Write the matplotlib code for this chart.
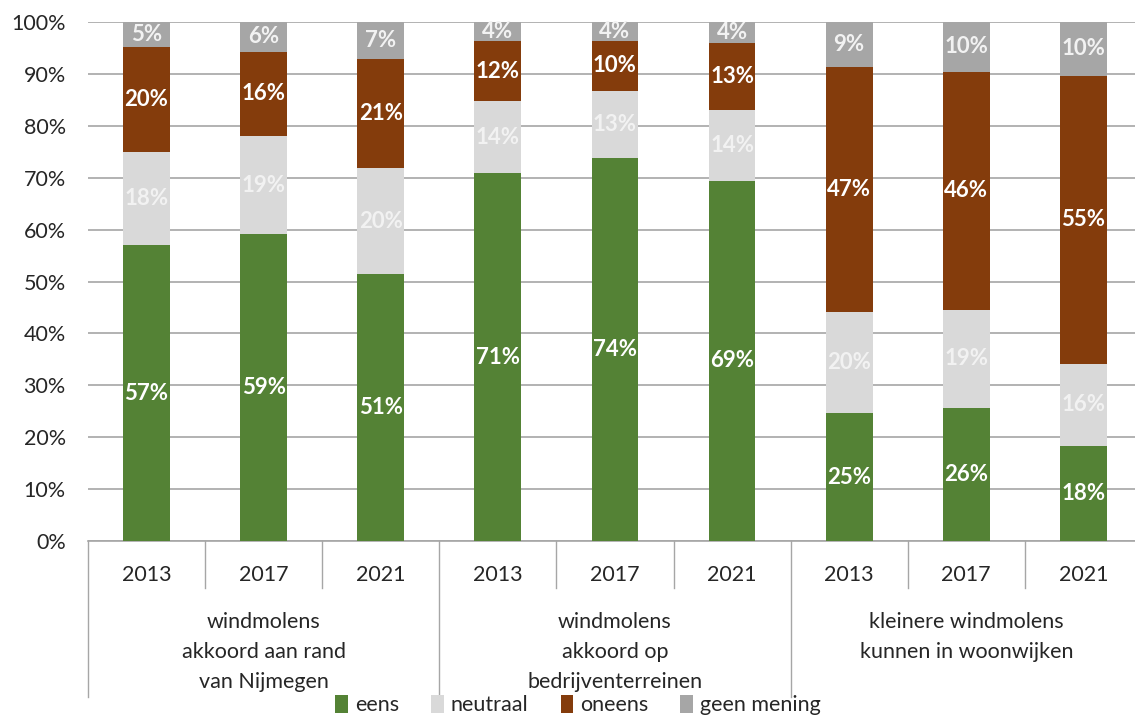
import numpy as np
import matplotlib.pyplot as plt

# data (percentages)
years = ['2013', '2017', '2021'] * 3
groups = [['windmolens', 'akkoord aan rand', 'van Nijmegen'],
          ['windmolens', 'akkoord op', 'bedrijventerreinen'],
          ['kleinere windmolens', 'kunnen in woonwijken']]
series = ['eens', 'neutraal', 'oneens', 'geen mening']
eens = [57.0, 59.1, 51.4, 70.9, 73.7, 69.4, 24.6, 25.7, 18.4]
neutraal = [18.0, 18.9, 20.4, 13.8, 13.0, 13.7, 19.6, 18.9, 15.8]
oneens = [20.2, 16.3, 21.1, 11.7, 9.7, 12.8, 47.2, 45.8, 55.4]
geen_mening = [4.8, 5.7, 7.1, 3.6, 3.6, 4.1, 8.6, 9.6, 10.4]

colors = ['#548235', '#d9d9d9', '#843c0c', '#a6a6a6']
label_colors = ['white', '#f2f2f2', 'white', '#f2f2f2']

plt.rcParams['font.family'] = ['Lato', 'DejaVu Sans']
fs = 15.5

W, H = 1135, 718
fig = plt.figure(figsize=(W / 100, H / 100), dpi=100)
left, right, top, bottom = 88, 88 + 9 * 117.1, 22, 541
ax = fig.add_axes([left / W, 1 - bottom / H, (right - left) / W, (bottom - top) / H])

x = np.arange(len(years))
base = np.zeros(len(years))
for name, vals, c, lc in zip(series, [eens, neutraal, oneens, geen_mening], colors, label_colors):
    vals = np.array(vals)
    ax.bar(x, vals, 0.4, bottom=base, color=c, label=name, zorder=3)
    for xi, b, v in zip(x, base, vals):
        ax.text(xi, b + v / 2, f'{v:.0f}%', ha='center', va='center',
                color=lc, fontsize=16, fontweight='bold', zorder=4)
    base += vals

ax.set_xlim(-0.5, len(years) - 0.5)
ax.set_ylim(0, 100)
ax.set_yticks(np.arange(0, 101, 10))
ax.set_yticklabels([f'{v}%' for v in range(0, 101, 10)])
ax.yaxis.grid(True, color='#a6a6a6', linewidth=1.2, zorder=0)
ax.set_axisbelow(True)
ax.tick_params(axis='y', length=0, pad=16, labelsize=fs, labelcolor='#262626')
ax.set_xticks(x)
ax.set_xticklabels(years)
ax.tick_params(axis='x', length=0, pad=17, labelsize=fs, labelcolor='#262626')
for s in ['left', 'right', 'top']:
    ax.spines[s].set_visible(False)
ax.spines['bottom'].set_color('#a6a6a6')
ax.spines['bottom'].set_linewidth(1.2)

# category separators
tr = ax.get_xaxis_transform()
px = 1 / (bottom - top)
for i in range(len(years) + 1):
    if i % 3 == 0:
        y1 = -(697 - bottom) * px
    else:
        y1 = -(588 - bottom) * px
    ax.plot([i - 0.5, i - 0.5], [0, y1], color='#a6a6a6', lw=1.0,
            transform=tr, clip_on=False)

# group labels
for g, lines in enumerate(groups):
    ax.text(3 * g + 1, -(612 - bottom) * px, '\n'.join(lines), transform=tr,
            ha='center', va='top', fontsize=fs, color='#262626', linespacing=1.62)

fig.legend(loc='center', bbox_to_anchor=(578 / W, 1 - 705 / H), ncol=4,
           frameon=False, fontsize=fs, handlelength=0.6, handleheight=0.9,
           handletextpad=0.3, columnspacing=1.5, labelcolor='#262626')

fig.savefig('out.png', dpi=100)
